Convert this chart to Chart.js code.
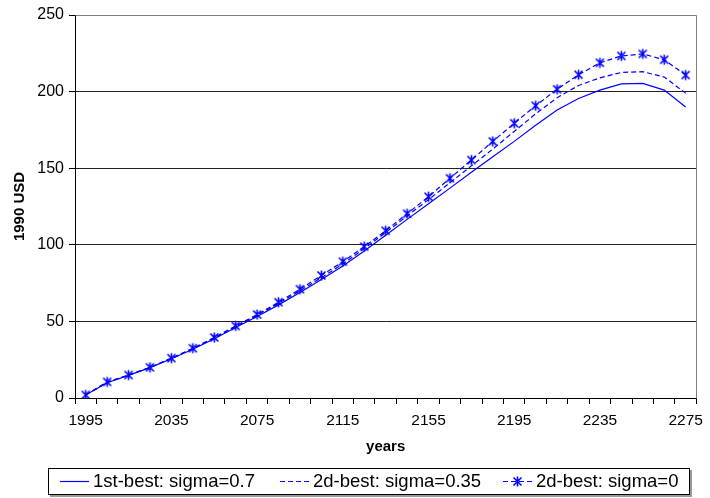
<!DOCTYPE html>
<html lang="en">
<head>
<meta charset="UTF-8">
<title>1990 USD by year</title>
<script src="https://cdn.jsdelivr.net/npm/chart.js"></script>
<style>
  html, body { margin: 0; padding: 0; background: #fff; }
</style>
</head>
<body>
<canvas id="usdChart" width="710" height="498"></canvas>
<script>
// years on the category axis (one point every 10 years)
const years = [1995, 2005, 2015, 2025, 2035, 2045, 2055, 2065, 2075, 2085,
               2095, 2105, 2115, 2125, 2135, 2145, 2155, 2165, 2175, 2185,
               2195, 2205, 2215, 2225, 2235, 2245, 2255, 2265, 2275];

// 1st-best: sigma=0.7 (solid)
const firstBest07 = [2, 10, 14.8, 19.8, 25.6, 31.8, 38.7, 46, 53.2, 60.8,
                     68.8, 77.3, 86.2, 96, 106.3, 116.6, 126.8, 137, 147.3, 157.5,
                     167.5, 178, 188, 195.5, 201, 205, 205.4, 201, 190];

// 2d-best: sigma=0.35 (dashed)
const secondBest035 = [2, 10.2, 14.9, 19.9, 25.8, 32.2, 39, 46.5, 54, 61.8,
                       70, 78.5, 87.5, 97.5, 108, 118.8, 129.5, 140.5, 151.5, 162.5,
                       174, 185.5, 196, 204, 209, 212.5, 213, 209.5, 199];

// 2d-best: sigma=0 (dashed with stars)
const secondBest0 = [2, 10.5, 15, 20, 26, 32.5, 39.5, 47, 54.5, 62.5,
                     71, 80, 89, 98.8, 109.2, 120.3, 131.4, 143.4, 155.3, 167.5,
                     179.3, 190.8, 201.5, 211, 218.8, 223.3, 224.6, 220.8, 210.8];

const yTicks = [0, 50, 100, 150, 200, 250];

const FONT = "'Liberation Sans', Arial, sans-serif";
const BLUE = '#0000ff';

// Excel-like asterisk marker: an X with a vertical bar
function drawAsterisk(c, cx, cy, r) {
    c.beginPath();
    c.moveTo(cx - r, cy - r); c.lineTo(cx + r, cy + r);
    c.moveTo(cx + r, cy - r); c.lineTo(cx - r, cy + r);
    c.moveTo(cx, cy - r - 1); c.lineTo(cx, cy + r + 1);
    c.stroke();
}
const asterisk = document.createElement('canvas');
asterisk.width = 13;
asterisk.height = 13;
(function () {
    const c = asterisk.getContext('2d');
    c.strokeStyle = BLUE;
    c.lineWidth = 1.6;
    drawAsterisk(c, 6.5, 6.5, 4);
})();

// grey frame on the top and right of the plot area
const plotFrame = {
    id: 'plotFrame',
    afterDraw(chart) {
        const { ctx, chartArea: a } = chart;
        ctx.save();
        ctx.strokeStyle = '#808080';
        ctx.lineWidth = 1;
        ctx.beginPath();
        ctx.moveTo(Math.round(a.left) + 0.5, Math.round(a.top) + 0.5);
        ctx.lineTo(Math.round(a.right) + 0.5, Math.round(a.top) + 0.5);
        ctx.lineTo(Math.round(a.right) + 0.5, Math.round(a.bottom) + 0.5);
        ctx.stroke();
        ctx.restore();
    }
};

// boxed legend under the axis title, like the Excel original
const boxLegend = {
    id: 'boxLegend',
    afterDraw(chart) {
        const ctx = chart.ctx;
        const itemX = [60, 280, 503];
        const y = 481.5;
        ctx.save();
        // shadow + box
        ctx.fillStyle = '#9a9a9a';
        ctx.fillRect(50, 470, 642, 27);
        ctx.fillStyle = '#fff';
        ctx.fillRect(48, 468, 642, 27);
        ctx.strokeStyle = '#000';
        ctx.lineWidth = 1;
        ctx.strokeRect(48.5, 468.5, 641, 26);

        chart.data.datasets.forEach((ds, i) => {
            const x0 = itemX[i];
            ctx.strokeStyle = ds.borderColor;
            ctx.lineWidth = 1.2;
            ctx.setLineDash(ds.borderDash || []);
            ctx.beginPath();
            ctx.moveTo(x0, y);
            ctx.lineTo(x0 + 29, y);
            ctx.stroke();
            ctx.setLineDash([]);
            if (ds.pointRadius > 0) {
                ctx.lineWidth = 1.6;
                drawAsterisk(ctx, x0 + 14.5, y, 4);
            }
            ctx.fillStyle = '#000';
            ctx.font = '18.5px ' + FONT;
            ctx.textBaseline = 'middle';
            ctx.fillText(ds.label, x0 + 33, y + 0.5);
        });
        ctx.restore();
    }
};

const ctx = document.getElementById('usdChart').getContext('2d');
const chart = new Chart(ctx, {
    type: 'line',
    data: {
        labels: years,
        datasets: [{
            label: '1st-best: sigma=0.7',
            data: firstBest07,
            borderColor: BLUE,
            borderWidth: 1.2,
            pointRadius: 0,
            fill: false,
            tension: 0
        }, {
            label: '2d-best: sigma=0.35',
            data: secondBest035,
            borderColor: BLUE,
            borderWidth: 1.2,
            borderDash: [5, 3],
            pointRadius: 0,
            fill: false,
            tension: 0
        }, {
            label: '2d-best: sigma=0',
            data: secondBest0,
            borderColor: BLUE,
            borderWidth: 1.2,
            borderDash: [5, 3],
            pointStyle: asterisk,
            pointRadius: 5,
            fill: false,
            tension: 0
        }]
    },
    options: {
        responsive: false,
        animation: false,
        devicePixelRatio: 1,
        layout: { padding: { top: 15, right: 7, bottom: 40, left: 0 } },
        plugins: {
            legend: { display: false },
            tooltip: { enabled: false }
        },
        scales: {
            x: {
                offset: true,
                afterFit: (scale) => { scale.height = 60; },
                grid: {
                    offset: true,
                    drawOnChartArea: false,
                    drawTicks: true,
                    tickLength: 6,
                    tickColor: '#000'
                },
                border: { display: true, color: '#000', width: 1 },
                ticks: {
                    autoSkip: false,
                    maxRotation: 0,
                    padding: 7,
                    color: '#000',
                    font: { family: FONT, size: 15.5 },
                    callback: function (v, i) {
                        return i % 4 === 0 ? this.getLabelForValue(v) : '';
                    }
                },
                title: {
                    display: true,
                    text: 'years',
                    color: '#000',
                    font: { family: FONT, size: 15, weight: 'bold' },
                    padding: { top: 0, bottom: 2 }
                }
            },
            y: {
                min: yTicks[0],
                max: yTicks[yTicks.length - 1],
                afterFit: (scale) => { scale.width = 75; },
                afterBuildTicks: (scale) => { scale.ticks = yTicks.map(v => ({ value: v })); },
                grid: {
                    color: (c) => c.tick && c.tick.value === 250 ? '#808080' : '#222',
                    tickColor: '#000',
                    tickLength: 6
                },
                border: { display: true, color: '#000', width: 1 },
                ticks: {
                    padding: 5,
                    color: '#000',
                    font: { family: FONT, size: 16 }
                },
                title: {
                    display: true,
                    text: '1990 USD',
                    color: '#000',
                    font: { family: FONT, size: 15, weight: 'bold' },
                    padding: { top: 11, bottom: 0 }
                }
            }
        }
    },
    plugins: [plotFrame, boxLegend]
});
</script>
</body>
</html>
